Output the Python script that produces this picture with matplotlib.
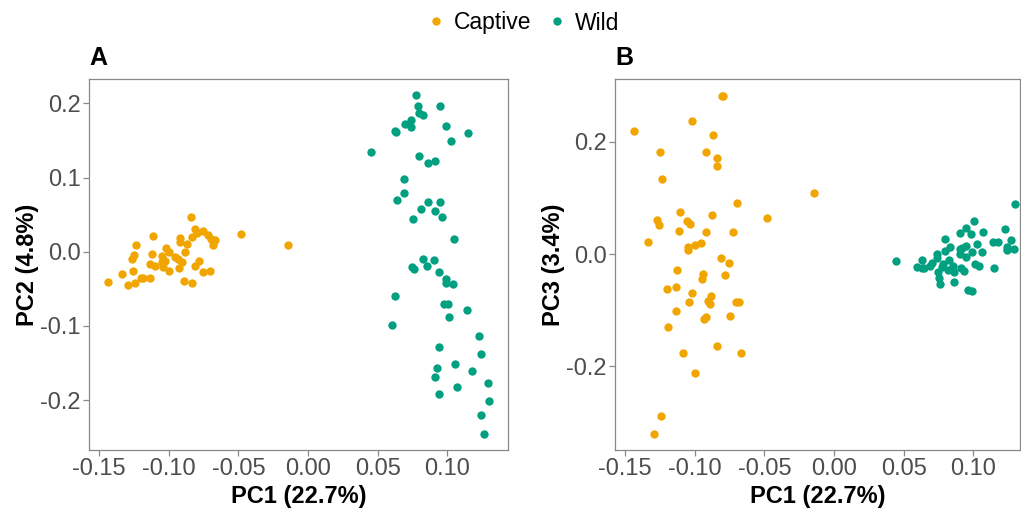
import matplotlib
matplotlib.use('Agg')
import matplotlib.pyplot as plt
from matplotlib.lines import Line2D

plt.rcParams['font.family'] = ['Liberation Sans', 'DejaVu Sans']
plt.rcParams['axes.unicode_minus'] = False

captive_color = '#F0A500'
wild_color = '#00A080'

# Panel A: PC1 vs PC2
a_captive_pc1 = [-0.0841, -0.0811, -0.0758, -0.0722, -0.0698, -0.0669, -0.0684, -0.0836, -0.0801, -0.0920,
                 -0.0923, -0.0870, -0.1114, -0.1236, -0.1023, -0.0999, -0.1248, -0.1267, -0.1123, -0.1052,
                 -0.0956, -0.0937, -0.0885, -0.0904, -0.1028, -0.1052, -0.1133, -0.1098, -0.1040, -0.0999,
                 -0.0925, -0.0786, -0.0813, -0.0753, -0.0705, -0.1260, -0.1339, -0.1439, -0.1296, -0.1241,
                 -0.1200, -0.1188, -0.1136, -0.0894, -0.0836, -0.0483, -0.0146]
a_captive_pc2 = [0.0464, 0.0302, 0.0279, 0.0225, 0.0171, 0.0154, 0.0090, 0.0202, 0.0248, 0.0189,
                 0.0127, 0.0108, 0.0216, 0.0090, 0.0054, 0.0000, -0.0044, -0.0102, -0.0031, -0.0054,
                 -0.0071, -0.0102, 0.0000, -0.0135, -0.0121, -0.0135, -0.0162, -0.0193, -0.0206, -0.0260,
                 -0.0216, -0.0125, -0.0189, -0.0270, -0.0260, -0.0256, -0.0296, -0.0412, -0.0445, -0.0418,
                 -0.0350, -0.0354, -0.0358, -0.0391, -0.0422, 0.0234, 0.0086]

a_wild_pc1 = [0.0773, 0.0787, 0.0945, 0.0794, 0.0823, 0.0739, 0.0699, 0.0737, 0.0627, 0.0629,
              0.0993, 0.1146, 0.1026, 0.0448, 0.0796, 0.0859, 0.0909, 0.0687, 0.0687, 0.0641,
              0.0859, 0.0950, 0.0813, 0.0909, 0.0964, 0.0751, 0.1050, 0.0828, 0.0904, 0.0749,
              0.0758, 0.0852, 0.0940, 0.0988, 0.0988, 0.1040, 0.0627, 0.0976, 0.1004, 0.1138,
              0.1014, 0.0600, 0.1225, 0.0943, 0.1239, 0.1057, 0.0928, 0.1174, 0.0914, 0.1294,
              0.1072, 0.0938, 0.1298, 0.1241, 0.1265]
a_wild_pc2 = [0.2112, 0.1964, 0.1964, 0.1873, 0.1838, 0.1771, 0.1721, 0.1685, 0.1631, 0.1609,
              0.1698, 0.1600, 0.1488, 0.1348, 0.1286, 0.1199, 0.1222, 0.0976, 0.0791, 0.0697,
              0.0674, 0.0674, 0.0580, 0.0544, 0.0472, 0.0437, 0.0171, -0.0094, -0.0116, -0.0210,
              -0.0237, -0.0193, -0.0270, -0.0364, -0.0426, -0.0435, -0.0597, -0.0705, -0.0701, -0.0790,
              -0.0876, -0.0992, -0.1136, -0.1288, -0.1379, -0.1518, -0.1571, -0.1604, -0.1685, -0.1774,
              -0.1828, -0.1922, -0.2012, -0.2201, -0.2453]

# Panel B: PC1 vs PC3
b_captive_pc1 = [-0.0806, -0.0796, -0.1021, -0.1437, -0.0868, -0.1246, -0.0920, -0.0839, -0.0837, -0.1236,
                 -0.0694, -0.0478, -0.1107, -0.1268, -0.1258, -0.1055, -0.1031, -0.0877, -0.1112, -0.0918,
                 -0.0722, -0.1336, -0.1047, -0.1049, -0.0997, -0.0952, -0.0811, -0.0755, -0.1124, -0.0938,
                 -0.0782, -0.0945, -0.1200, -0.1133, -0.1021, -0.0880, -0.0902, -0.0890, -0.1042, -0.0705,
                 -0.0679, -0.1133, -0.0920, -0.0935, -0.0748, -0.1194, -0.0837, -0.0667, -0.1085, -0.0997,
                 -0.1239, -0.1291, -0.0143]
b_captive_pc3 = [0.2819, 0.2809, 0.2363, 0.2191, 0.2119, 0.1822, 0.1811, 0.1715, 0.1567, 0.1341,
                 0.0908, 0.0646, 0.0743, 0.0606, 0.0522, 0.0582, 0.0529, 0.0689, 0.0415, 0.0397,
                 0.0392, 0.0219, 0.0130, 0.0077, 0.0166, 0.0191, -0.0066, -0.0160, -0.0285, -0.0356,
                 -0.0379, -0.0445, -0.0629, -0.0588, -0.0689, -0.0748, -0.0832, -0.0896, -0.0855, -0.0860,
                 -0.0860, -0.1020, -0.1117, -0.1158, -0.1110, -0.1295, -0.1633, -0.1763, -0.1768, -0.2114,
                 -0.2885, -0.3200, 0.1086]

b_wild_pc1 = [0.1298, 0.1004, 0.0945, 0.1071, 0.0904, 0.0981, 0.1225, 0.0796, 0.1138, 0.1176,
              0.1270, 0.1028, 0.0949, 0.0918, 0.0904, 0.0832, 0.0796, 0.1239, 0.1243, 0.1293,
              0.1060, 0.0988, 0.0906, 0.0947, 0.0737, 0.0741, 0.0827, 0.0782, 0.0631, 0.0447,
              0.0701, 0.0689, 0.0598, 0.0629, 0.0648, 0.0773, 0.0852, 0.0816, 0.0748, 0.0861,
              0.0911, 0.0930, 0.1014, 0.1042, 0.1148, 0.0753, 0.0760, 0.0859, 0.0963, 0.0988]
b_wild_pc3 = [0.0890, 0.0593, 0.0463, 0.0392, 0.0369, 0.0351, 0.0440, 0.0272, 0.0214, 0.0214,
              0.0249, 0.0183, 0.0148, 0.0112, 0.0084, 0.0125, 0.0053, 0.0119, 0.0066, 0.0084,
              0.0041, 0.0041, 0.0005, -0.0059, 0.0005, -0.0066, -0.0102, -0.0178, -0.0112, -0.0125,
              -0.0155, -0.0214, -0.0237, -0.0255, -0.0249, -0.0226, -0.0208, -0.0290, -0.0315, -0.0315,
              -0.0244, -0.0303, -0.0173, -0.0214, -0.0249, -0.0422, -0.0529, -0.0499, -0.0636, -0.0654]

x_ticks = [-0.15, -0.10, -0.05, 0.00, 0.05, 0.10]
a_y_ticks = [-0.2, -0.1, 0.0, 0.1, 0.2]
b_y_ticks = [-0.2, 0.0, 0.2]

fig = plt.figure(figsize=(10.21, 5.08), dpi=100)
ax_a = fig.add_axes([89 / 1021, 58 / 508, 419 / 1021, 371 / 508])
ax_b = fig.add_axes([615 / 1021, 58 / 508, 405 / 1021, 371 / 508])


def style_axes(ax, xs_c, ys_c, xs_w, ys_w, yticks, ylabel, title, xlim, ylim):
    ax.scatter(xs_c, ys_c, s=36, color=captive_color, linewidths=0, zorder=3)
    ax.scatter(xs_w, ys_w, s=36, color=wild_color, linewidths=0, zorder=3)
    ax.set_xlim(*xlim)
    ax.set_ylim(*ylim)
    ax.set_xticks(x_ticks)
    ax.set_xticklabels(['%.2f' % t for t in x_ticks])
    ax.set_yticks(yticks)
    ax.set_yticklabels(['%.1f' % t for t in yticks])
    ax.tick_params(axis='both', labelsize=17, labelcolor='#4D4D4D', color='#888888',
                   length=4, width=0.9, pad=2)
    for sp in ax.spines.values():
        sp.set_color('#888888')
        sp.set_linewidth(0.9)
    ax.set_xlabel('PC1 (22.7%)', fontsize=17, fontweight='bold', labelpad=3)
    ax.set_ylabel(ylabel, fontsize=17, fontweight='bold', labelpad=1)
    ax.set_title(title, loc='left', fontsize=18, fontweight='bold', pad=10)


style_axes(ax_a, a_captive_pc1, a_captive_pc2, a_wild_pc1, a_wild_pc2,
           a_y_ticks, 'PC2 (4.8%)', 'A', (-0.1573, 0.1435), (-0.2672, 0.2328))
style_axes(ax_b, b_captive_pc1, b_captive_pc3, b_wild_pc1, b_wild_pc3,
           b_y_ticks, 'PC3 (3.4%)', 'B', (-0.1571, 0.1334), (-0.349, 0.3117))

handles = [Line2D([], [], marker='o', linestyle='', color=captive_color, markersize=5, label='Captive'),
           Line2D([], [], marker='o', linestyle='', color=wild_color, markersize=5, label='Wild')]
fig.legend(handles=handles, loc='center', bbox_to_anchor=(522 / 1021, 1 - 23 / 508), ncol=2,
           frameon=False, fontsize=16.5, handletextpad=0.3, columnspacing=0.6, handlelength=1.0)

fig.savefig('out.png', dpi=100)
